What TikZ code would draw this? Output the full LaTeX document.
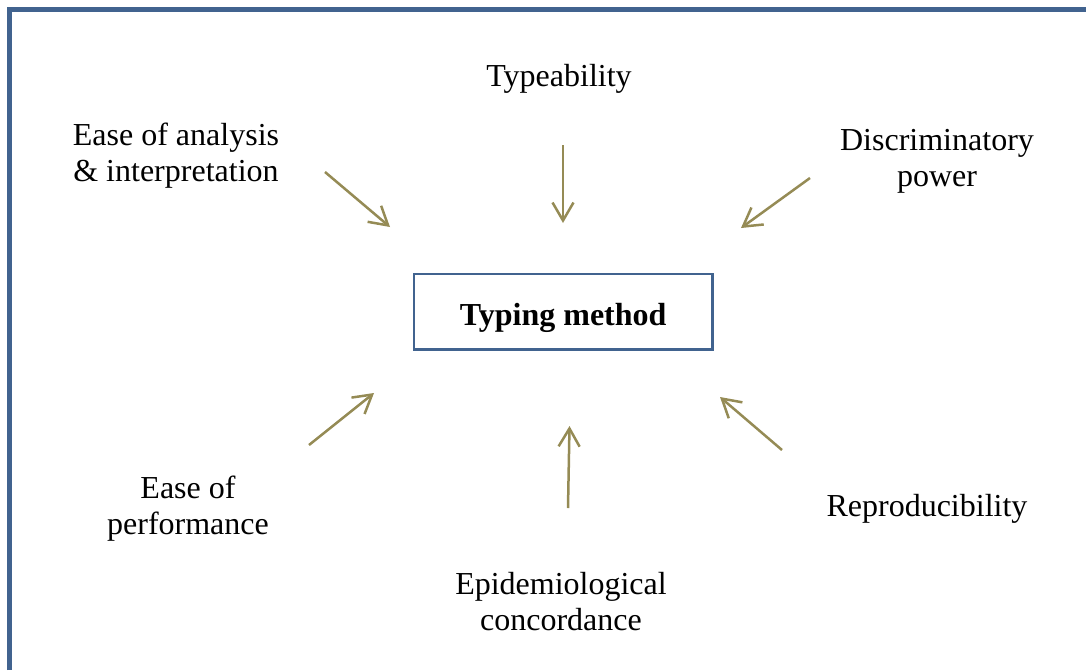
\documentclass[tikz,border=0pt]{standalone}
\usepackage{fontspec}
\setmainfont{Liberation Serif}
\usetikzlibrary{arrows.meta}
\definecolor{frameblue}{HTML}{41638F}
\definecolor{olive}{HTML}{958B55}
\begin{document}
\begin{tikzpicture}[x=1pt,y=-1pt,
  lbl/.style={font=\fontsize{32}{36}\selectfont, align=center, inner sep=0pt, anchor=base},
  arr/.style={draw=olive, line width=2.5pt, -{Straight Barb[length=18pt,width=21pt,line width=2.5pt]}},
  mainbox/.style={draw=frameblue, line width=2.7pt, minimum width=298.5pt, minimum height=75.5pt, inner sep=0pt, text height=34pt, text depth=7pt, font=\fontsize{32}{36}\selectfont\bfseries}]
\useasboundingbox (0,0) rectangle (1086,670);
\draw[frameblue, line width=4.5pt] (9.5,670) -- (9.5,9.5) -- (1086,9.5);
\node[mainbox] (tm) at (563.2,311.7) {Typing method};
\node[lbl] (typ) at (559,86) {Typeability};
\node[lbl] (ease) at (176,181) {Ease of analysis\\ \& interpretation};
\node[lbl] (disc) at (937,186) {Discriminatory\\ power};
\node[lbl] (perf) at (188,534) {Ease of\\ performance};
\node[lbl] (rep) at (927,516) {Reproducibility};
\node[lbl] (epi) at (561,630) {Epidemiological\\ concordance};
\coordinate (a1s) at (325,172); \coordinate (a1e) at (390,227);
\coordinate (a2s) at (563,145); \coordinate (a2e) at (563,223);
\coordinate (a3s) at (810,178); \coordinate (a3e) at (741,228);
\coordinate (a4s) at (309,445); \coordinate (a4e) at (374,393);
\coordinate (a5s) at (568,508); \coordinate (a5e) at (569.5,426);
\coordinate (a6s) at (782,450); \coordinate (a6e) at (720,397);
\draw[arr] (a1s) -- (a1e);
\draw[arr] (a2s) -- (a2e);
\draw[arr] (a3s) -- (a3e);
\draw[arr] (a4s) -- (a4e);
\draw[arr] (a5s) -- (a5e);
\draw[arr] (a6s) -- (a6e);
\end{tikzpicture}
\end{document}
